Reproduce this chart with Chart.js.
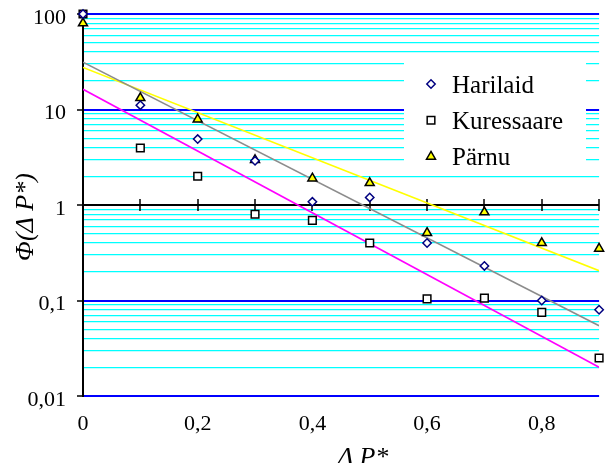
<!DOCTYPE html>
<html>
<head>
<meta charset="utf-8">
<script src="https://cdn.jsdelivr.net/npm/chart.js@4.4.1/dist/chart.umd.min.js"></script>
<style>
  body { margin: 0; background: #fff; }
</style>
</head>
<body>
<canvas id="chart" width="606" height="463"></canvas>
<script>
// measured points
const xValues = [0, 0.1, 0.2, 0.3, 0.4, 0.5, 0.6, 0.7, 0.8, 0.9];
const harilaid = [100, 11.1, 4.9, 2.9, 1.08, 1.2, 0.40, 0.23, 0.1, 0.08];
const kuressaare = [100, 3.95, 2.0, 0.8, 0.69, 0.4, 0.104, 0.106, 0.075, 0.025];
const parnu = [80, 13.2, 7.9, 2.96, 1.9, 1.7, 0.51, 0.84, 0.4, 0.35];

// fitted trend lines, ends
const trendX = [0, 0.9];
const trendGray = [31.3, 0.0545];
const trendYellow = [27.6, 0.205];
const trendMagenta = [16.3, 0.020];

const yTickValues = [0.01, 0.1, 1, 10, 100];
const yTickLabels = ['0,01', '0,1', '1', '10', '100'];
const xTickValues = [0, 0.2, 0.4, 0.6, 0.8];
const xTickLabels = ['0', '0,2', '0,4', '0,6', '0,8'];

const serif = '"Liberation Serif", "Times New Roman", serif';

function pts(xs, ys) {
    return xs.map((x, i) => ({ x: x, y: ys[i] }));
}

function decadeIndex(v) {
    return yTickValues.findIndex(d => Math.abs(d - v) < d * 1e-6);
}

// black axis at y = 1 with crossing ticks, plus the boxed legend
const extrasPlugin = {
    id: 'extras',
    beforeDatasetsDraw(chart) {
        const ctx = chart.ctx;
        const xs = chart.scales.x;
        const ys = chart.scales.y;
        const y1 = ys.getPixelForValue(1);
        ctx.save();
        ctx.strokeStyle = '#000';
        ctx.lineWidth = 1.5;
        xValues.forEach(v => {
            if (v === 0) return;
            const px = Math.round(xs.getPixelForValue(v));
            ctx.beginPath();
            ctx.moveTo(px, y1 - 6);
            ctx.lineTo(px, y1 + 6);
            ctx.stroke();
        });

        // legend
        ctx.fillStyle = '#fff';
        ctx.fillRect(404, 57, 182, 114);
        const items = chart.data.datasets.filter(d => d.inLegend);
        ctx.font = '25px ' + serif;
        ctx.textBaseline = 'alphabetic';
        ctx.textAlign = 'left';
        items.forEach((ds, i) => {
            const base = 92.5 + i * 36.3;
            const my = base - 8.5;
            ctx.fillStyle = ds.legendFill;
            ctx.strokeStyle = ds.borderColor;
            ctx.lineWidth = ds.borderWidth;
            if (Chart.helpers && Chart.helpers.drawPoint) {
                Chart.helpers.drawPoint(ctx, {
                    pointStyle: ds.pointStyle,
                    radius: ds.pointRadius,
                    borderWidth: ds.borderWidth,
                    rotation: 0
                }, 431, my);
            }
            ctx.fillStyle = '#000';
            ctx.fillText(ds.label, 452, base);
        });
        ctx.restore();
    },
    afterDraw(chart) {
        const ctx = chart.ctx;
        const area = chart.chartArea;
        ctx.save();
        ctx.fillStyle = '#000';
        ctx.font = 'italic 26px ' + serif;
        ctx.textAlign = 'center';
        ctx.textBaseline = 'alphabetic';
        ctx.fillText('\u0394 P*', (area.left + area.right) / 2 + 22, 465);

        ctx.translate(33, (area.top + area.bottom) / 2 + 12);
        ctx.rotate(-Math.PI / 2);
        ctx.fillText('\u03A6(\u0394 P*)', 0, 0);
        ctx.restore();
    }
};

new Chart(document.getElementById('chart').getContext('2d'), {
    type: 'scatter',
    data: {
        datasets: [
            {
                label: 'Harilaid',
                inLegend: true,
                data: pts(xValues, harilaid),
                pointStyle: 'rectRot',
                pointRadius: 4.2,
                borderColor: '#000080',
                backgroundColor: '#fff',
                legendFill: '#fff',
                borderWidth: 1.5,
                showLine: false,
                clip: false
            },
            {
                label: 'Kuressaare',
                inLegend: true,
                data: pts(xValues, kuressaare),
                pointStyle: 'rect',
                pointRadius: 5.4,
                borderColor: '#000',
                backgroundColor: xValues.map((x, i) => i === 0 ? '#ff00ff' : '#fff'),
                legendFill: '#fff',
                borderWidth: 1.5,
                showLine: false,
                clip: false
            },
            {
                label: 'Pärnu',
                inLegend: true,
                data: pts(xValues, parnu),
                pointStyle: 'triangle',
                pointRadius: 5.2,
                borderColor: '#000',
                backgroundColor: '#ffff00',
                legendFill: '#ffff00',
                borderWidth: 1.5,
                showLine: false,
                clip: false
            },
            {
                label: 'trend gray',
                data: pts(trendX, trendGray),
                showLine: true,
                pointRadius: 0,
                borderColor: '#8c8c8c',
                borderWidth: 1.6
            },
            {
                label: 'trend yellow',
                data: pts(trendX, trendYellow),
                showLine: true,
                pointRadius: 0,
                borderColor: '#ffff00',
                borderWidth: 1.6
            },
            {
                label: 'trend magenta',
                data: pts(trendX, trendMagenta),
                showLine: true,
                pointRadius: 0,
                borderColor: '#ff00ff',
                borderWidth: 1.6
            }
        ]
    },
    options: {
        responsive: false,
        animation: false,
        layout: { padding: { top: 14, right: 4, left: 0, bottom: 0 } },
        plugins: {
            legend: { display: false },
            tooltip: { enabled: false }
        },
        scales: {
            x: {
                type: 'linear',
                min: 0,
                max: 0.9,
                grid: { display: false, drawTicks: false },
                border: { display: false },
                afterBuildTicks: axis => {
                    axis.ticks = xTickValues.map(v => ({ value: v }));
                },
                afterFit: axis => {
                    axis.height = 67;
                    axis.paddingLeft = 0;
                    axis.paddingRight = 0;
                },
                ticks: {
                    autoSkip: false,
                    maxRotation: 0,
                    padding: 15,
                    color: '#000',
                    font: { family: serif, size: 22 },
                    callback: (value, index) => xTickLabels[index]
                }
            },
            y: {
                type: 'logarithmic',
                min: 0.01,
                max: 100,
                afterBuildTicks: axis => {
                    const ticks = [];
                    for (let d = 0; d < yTickValues.length - 1; d++) {
                        for (let k = 1; k <= 9; k++) {
                            ticks.push({ value: yTickValues[d] * k, major: k === 1 });
                        }
                    }
                    ticks.push({ value: yTickValues[yTickValues.length - 1], major: true });
                    axis.ticks = ticks;
                },
                afterFit: axis => {
                    axis.width = 83;
                    axis.paddingTop = 0;
                    axis.paddingBottom = 0;
                },
                grid: {
                    color: c => {
                        const i = decadeIndex(c.tick.value);
                        if (i < 0) return '#00ffff';
                        return yTickValues[i] === 1 ? '#000' : '#0000ff';
                    },
                    lineWidth: c => decadeIndex(c.tick.value) >= 0 ? 2 : 1.3,
                    tickColor: c => decadeIndex(c.tick.value) >= 0 ? '#000' : 'rgba(0,0,0,0)',
                    tickLength: 6,
                    tickWidth: 1.5
                },
                border: { color: '#000', width: 2 },
                ticks: {
                    autoSkip: false,
                    padding: 11,
                    labelOffset: 4,
                    color: '#000',
                    font: { family: serif, size: 22 },
                    callback: value => {
                        const i = decadeIndex(value);
                        return i >= 0 ? yTickLabels[i] : '';
                    }
                }
            }
        }
    },
    plugins: [extrasPlugin]
});
</script>
</body>
</html>
